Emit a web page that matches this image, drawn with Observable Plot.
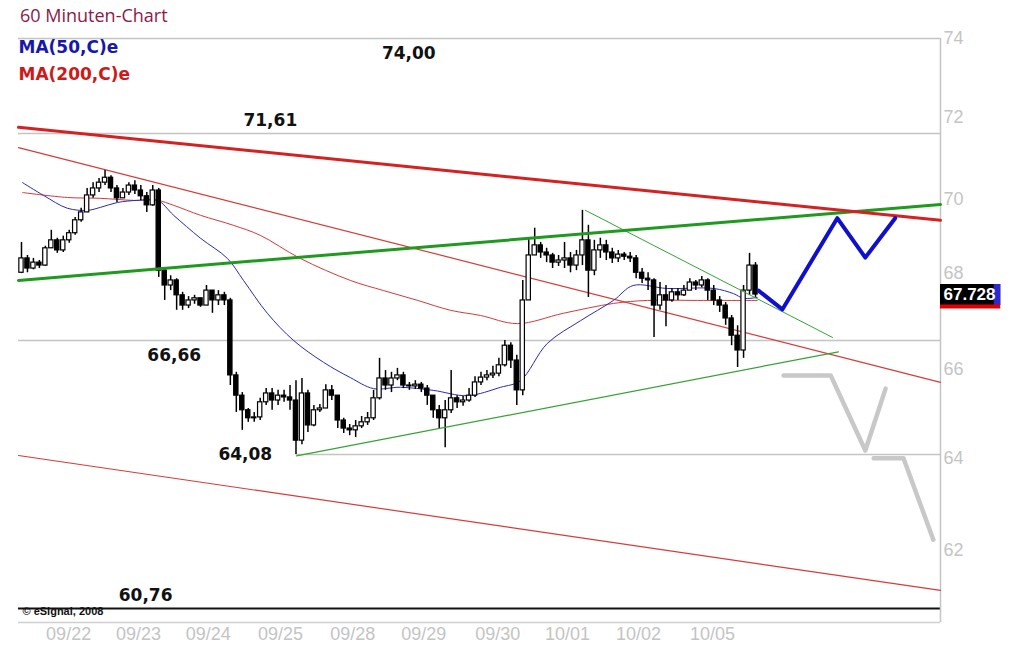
<!DOCTYPE html>
<html><head><meta charset="utf-8">
<script src="https://cdn.jsdelivr.net/npm/d3@7"></script>
<script src="https://cdn.jsdelivr.net/npm/@observablehq/plot@0.6"></script>
<style>
body{margin:0;background:#fff;}
#wrap{position:relative;width:1024px;height:661px;overflow:hidden;background:#fff;}
#chart{position:absolute;left:0;top:0;}
#title{position:absolute;left:20px;top:3px;font-family:"Open Sans",sans-serif;font-size:18px;color:#8b1a48;}
</style></head><body>
<div id="wrap"><div id="chart"></div><div id="title">60 Minuten-Chart</div></div>
<script>
// ---- hourly candles (bar index 0..123), prices ----
const firstOpen = 68.24;
const closes = [
68.58,68.34,68.48,68.41,68.82,69.01,68.77,69.01,69.18,69.49,
69.68,70.09,70.26,70.40,70.52,70.26,70.02,70.16,70.33,70.21,
70.07,69.85,70.21,68.29,67.94,68.06,67.71,67.47,67.59,67.64,
67.47,67.82,67.59,67.71,67.59,65.86,65.40,65.07,64.89,64.91,
65.25,65.45,65.29,65.40,65.36,65.29,64.39,65.45,64.73,65.07,
65.11,65.52,65.40,64.84,64.66,64.62,64.71,64.80,64.89,65.34,
65.79,65.63,65.79,65.86,65.63,65.61,65.65,65.56,65.40,65.07,
64.89,65.07,65.34,65.25,65.29,65.40,65.70,65.81,65.86,65.90,
66.09,66.54,66.20,65.52,67.59,68.65,68.89,68.72,68.65,68.48,
68.53,68.58,68.41,68.65,69.01,68.29,68.77,68.89,68.72,68.58,
68.67,68.62,68.58,68.24,68.10,68.06,67.47,67.71,67.59,67.78,
67.71,67.82,68.01,67.94,68.06,67.82,67.59,67.47,67.17,66.77,
66.43,67.82,68.41,67.728];
const highs = [
68.96,68.65,68.58,68.53,68.87,69.25,69.06,69.11,69.25,69.56,
69.78,70.26,70.40,70.50,70.70,70.57,70.33,70.26,70.40,70.45,
70.33,70.16,70.33,70.26,68.34,68.17,68.10,67.78,67.68,67.71,
67.64,67.94,67.82,67.82,67.78,67.64,65.93,65.47,65.11,65.02,
65.34,65.56,65.56,65.52,65.52,65.63,65.74,65.79,65.52,65.18,
65.20,65.65,65.63,65.40,64.89,64.75,64.84,64.93,65.02,65.52,
66.25,65.97,65.93,66.02,65.93,65.70,65.74,65.70,65.63,65.40,
65.18,65.29,65.97,65.40,65.38,65.56,65.83,65.93,65.97,66.07,
66.25,66.66,66.61,66.32,68.06,69.06,69.30,68.96,68.82,68.70,
68.65,68.96,68.72,68.77,69.73,69.37,69.01,69.06,69.01,68.82,
68.77,68.72,68.72,68.65,68.34,68.24,68.10,68.01,67.94,67.87,
67.87,67.94,68.10,68.06,68.15,68.10,67.94,67.68,67.54,67.24,
67.00,67.94,68.70,68.48];
const lows = [
68.22,68.24,68.31,68.34,68.39,68.82,68.70,68.72,68.94,69.13,
69.44,69.68,70.02,70.16,70.33,70.16,69.92,70.02,70.09,70.11,
69.97,69.68,69.83,68.13,67.59,67.82,67.36,67.36,67.40,67.50,
67.43,67.47,67.29,67.47,67.47,65.63,65.02,64.62,64.80,64.80,
64.84,65.18,65.07,65.18,65.25,65.07,64.08,64.30,64.57,64.70,
65.02,65.11,65.29,64.66,64.55,64.50,64.46,64.66,64.73,64.84,
65.30,65.52,65.47,65.74,65.56,65.52,65.54,65.47,65.18,64.89,
64.66,64.23,65.00,65.11,65.16,65.25,65.36,65.63,65.74,65.79,
65.83,66.05,66.02,65.18,65.40,67.59,68.65,68.58,68.48,68.34,
68.39,68.34,68.24,68.29,68.41,67.66,68.17,68.58,68.53,68.46,
68.48,68.53,68.48,68.10,67.99,67.82,66.73,67.36,66.98,67.55,
67.59,67.68,67.82,67.82,67.89,67.59,67.47,67.31,67.01,66.54,
66.04,66.25,67.71,67.66];

// ---- moving averages (bar index, price) ----
const ma50Bar = [0.2,3.7,7.7,11.1,13.2,16.1,19.4,22.8,25.5,30.0,34.5,37.2,41.2,45.6,50.6,55.1,59.0,63.5,69.0,74.7,80.3,83.6,88.1,93.7,99.2,102.5,108.2,116.0,119.3,121.0,123.3];
const ma50Val = [70.40,70.09,69.78,69.73,69.80,69.92,69.97,69.97,69.61,69.06,68.58,68.06,67.29,66.66,66.16,65.81,65.56,65.59,65.52,65.40,65.59,65.74,66.59,67.12,67.59,67.94,67.87,67.87,67.75,67.64,67.66];
const ma200Bar = [0.2,7.7,13.2,18.8,22.8,25.5,30.0,35.5,40.0,46.7,55.1,60.7,66.4,71.9,76.9,83.1,90.8,99.2,104.9,113.3,120.5,123.3];
const ma200Val = [70.16,70.04,70.02,69.97,69.97,69.85,69.61,69.37,69.13,68.58,68.06,67.82,67.59,67.36,67.24,67.05,67.29,67.52,67.59,67.59,67.59,67.59];

// ---- drawn trend lines: [bar, price] ----
const resistanceThick = [[-0.5,71.76],[154,69.49]];
const supportThick = [[-0.5,68.06],[154,69.87]];
const channelMid = [[-0.5,71.26],[154,65.70]];
const channelLow = [[-0.5,64.06],[154,61.14]];
const triangleUpper = [[94.5,69.73],[135.9,66.73]];
const triangleLower = [[46.1,64.05],[136.9,66.40]];

// ---- forecast paths ----
const forecastBlue = [[123.5,67.82],[127.5,67.38],[136.7,69.54],[141.4,68.60],[146.4,69.54]];
const forecastGrayA = [[127.7,65.86],[135.6,65.86],[141.4,64.17],[144.8,65.56]];
const forecastGrayB = [[142.8,64.00],[147.8,64.00],[152.8,62.22]];

// ---- levels and labels ----
const levelTop = [74.00];
const levelsGray = [71.61, 66.66];
const levelLow = 64.08, levelLowBar = 46;
const levelBottom = [60.76];
const labelsBelow = [{v:74.00, bar:64.9},{v:66.66, bar:25.6}];
const labelsAbove = [{v:71.61, bar:41.7},{v:60.76, bar:20.8}];
const labelsOn = [{v:64.08, bar:37.5}];
const dateTicks = [7.9,19.6,31.3,43.4,55.5,67.4,79.8,91.5,103.4,115.8];
const dateLabels = ["09/22","09/23","09/24","09/25","09/28","09/29","09/30","10/01","10/02","10/05"];
const priceTicks = [62,64,66,70,72,74];
const priceTickHidden = [68];   // partly covered by the last-price box
const xMax = 154;

const bars = closes.map((c,i)=>({i, open: i===0?firstOpen:closes[i-1], close:c, high:highs[i], low:lows[i]}));
const ma50 = ma50Bar.map((b,i)=>({b, v:ma50Val[i]}));
const ma200 = ma200Bar.map((b,i)=>({b, v:ma200Val[i]}));
const lastClose = closes[closes.length-1];
const fmtLvl = v => d3.format(".2f")(v).replace(".", ",");
const annFont = {fontFamily:"DejaVu Sans", fontWeight:"bold", fontSize:17, fill:"#111"};
const axFont = {fontFamily:"Liberation Sans", fontSize:18, fill:"#c4c4c4"};
const L = (data, o) => Plot.line(data, {x: d=>d[0], y: d=>d[1], ...o});

const chart = Plot.plot({
  width: 1024, height: 661,
  marginLeft: 18, marginRight: 84, marginTop: 38, marginBottom: 39,
  style: {background:"#fff", fontFamily:"Liberation Sans, Arial, sans-serif"},
  x: {domain:[-0.5, xMax]},
  y: {type:"log", domain:[62,74], range:[549.5,38]},
  marks: [
    Plot.ruleY(levelTop, {stroke:"#c4c4c4", strokeWidth:1.5}),
    Plot.ruleY(levelsGray, {stroke:"#c4c4c4", strokeWidth:1.5}),
    Plot.ruleY([levelLow], {x1: levelLowBar, x2: xMax, stroke:"#c4c4c4", strokeWidth:1.5}),
    Plot.ruleY(levelBottom, {stroke:"#111", strokeWidth:2}),
    Plot.ruleY([levelBottom[0]], {stroke:"#d0d0d0", strokeWidth:1.5, dy:14}),
    Plot.ruleX([xMax], {stroke:"#c4c4c4", strokeWidth:1.5}),
    L(channelLow, {stroke:"#d83a3a", strokeWidth:1.2}),
    L(channelMid, {stroke:"#d83a3a", strokeWidth:1.2}),
    Plot.line(ma200, {x:"b", y:"v", stroke:"#d23a3a", strokeWidth:1, curve:"catmull-rom"}),
    Plot.line(ma50, {x:"b", y:"v", stroke:"#2a2ab8", strokeWidth:1, curve:"catmull-rom"}),
    Plot.ruleX(bars, {x:"i", y1:"low", y2:"high", stroke:"#000", strokeWidth:1.5}),
    Plot.rect(bars, {x1: d=>d.i-0.36, x2: d=>d.i+0.36, y1:"open", y2:"close",
      fill: d=> d.close>=d.open ? "#fff" : "#000", stroke:"#000", strokeWidth:1.2}),
    L(triangleUpper, {stroke:"#36a336", strokeWidth:1}),
    L(triangleLower, {stroke:"#36a336", strokeWidth:1.2}),
    L(supportThick, {stroke:"#1f9a1f", strokeWidth:3}),
    L(resistanceThick, {stroke:"#d42222", strokeWidth:3}),
    L(forecastGrayA, {stroke:"#c8c8c8", strokeWidth:4.5}),
    L(forecastGrayB, {stroke:"#c8c8c8", strokeWidth:4.5}),
    L(forecastBlue, {stroke:"#1010cc", strokeWidth:4}),
    Plot.text(labelsBelow, {x:"bar", y:"v", text: d=>fmtLvl(d.v), dy:15, ...annFont}),
    Plot.text(labelsAbove, {x:"bar", y:"v", text: d=>fmtLvl(d.v), dy:-13, ...annFont}),
    Plot.text(labelsOn, {x:"bar", y:"v", text: d=>fmtLvl(d.v), dy:0, ...annFont}),
    Plot.text(["MA(50,C)e"], {frameAnchor:"top-left", textAnchor:"start", lineAnchor:"middle", dy:9, fill:"#1818a8", fontFamily:"DejaVu Sans", fontWeight:"bold", fontSize:17}),
    Plot.text(["MA(200,C)e"], {frameAnchor:"top-left", textAnchor:"start", lineAnchor:"middle", dy:36, fill:"#d01818", fontFamily:"DejaVu Sans", fontWeight:"bold", fontSize:17}),
    Plot.text(["© eSignal, 2008"], {frameAnchor:"bottom-left", textAnchor:"start", lineAnchor:"middle", dx:4, dy:-11, fill:"#111", fontFamily:"Liberation Sans", fontWeight:"bold", fontSize:11}),
    Plot.axisY({anchor:"right", ticks: priceTicks, tickSize:0, tickPadding:3, tickFormat: d=>String(d), fontSize:18, color:"#c4c4c4", fontFamily:"Liberation Sans"}),
    Plot.text(priceTickHidden, {x: xMax, y: d=>d, text: d=>String(d), textAnchor:"start", dx:3, dy:-10, ...axFont}),
    Plot.axisX({anchor:"bottom", ticks: dateTicks, tickSize:0, tickPadding:5, tickFormat: d=>dateLabels[dateTicks.indexOf(d)], fontSize:18, color:"#c4c4c4", fontFamily:"Liberation Sans", label:null}),
    Plot.ruleY([lastClose], {x1:xMax, x2:xMax+10.1, stroke:"#000", strokeWidth:21}),
    Plot.ruleY([lastClose], {x1:xMax+9.0, x2:xMax+10.1, stroke:"#2a2ad0", strokeWidth:21}),
    Plot.ruleY([lastClose], {x1:xMax, x2:xMax+10.1, stroke:"#e00000", strokeWidth:4, dy:12}),
    Plot.text([lastClose], {x: xMax, y: d=>d, text: d=>d3.format(".3f")(d), textAnchor:"start", dx:3, fill:"#fff", fontWeight:"bold", fontSize:17, fontFamily:"Liberation Sans"})
  ]
});
document.getElementById("chart").appendChild(chart);
</script>
</body></html>
